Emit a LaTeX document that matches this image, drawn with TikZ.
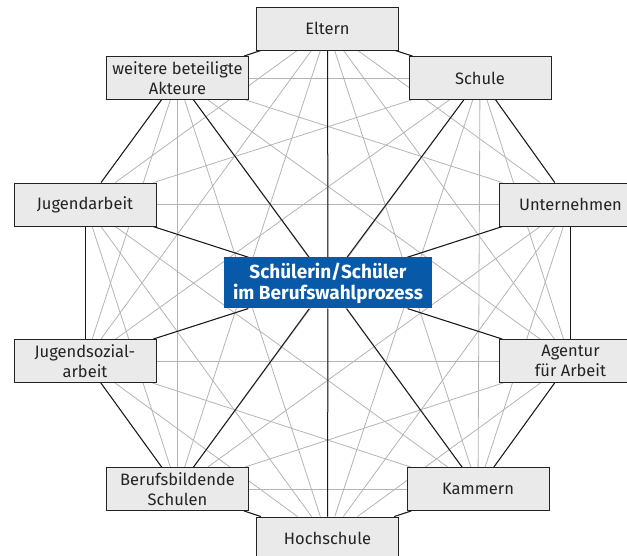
\documentclass[tikz,border=0pt]{standalone}
\usepackage{fontspec}
\setmainfont{Fira Sans}
\usetikzlibrary{backgrounds}
\definecolor{boxgray}{RGB}{234,234,234}
\definecolor{pupilblue}{RGB}{8,90,168}
\definecolor{meshgray}{RGB}{180,180,180}
\definecolor{textdark}{RGB}{35,35,35}

\tikzset{
  actor/.style={draw=textdark, fill=boxgray, line width=0.9pt,
    minimum width=142pt, minimum height=43pt, inner sep=0pt,
    align=center, text=textdark, font=\fontsize{16.5}{20}\selectfont},
  pupil/.style={fill=pupilblue, minimum width=208pt, minimum height=51pt,
    inner sep=0pt, align=center, text=white,
    font=\bfseries\fontsize{19}{21}\selectfont},
  mesh/.style={meshgray, line width=0.8pt},
  link/.style={black!90, line width=1pt}
}

\begin{document}
\begin{tikzpicture}[x=1pt,y=-1pt]
  \useasboundingbox (0,0) rectangle (627,556);

  % Akteure im Kreis
  \node[actor] (eltern)   at (327.5,28.5) {Eltern};
  \node[actor] (schule)   at (480,78)     {Schule};
  \node[actor] (untern)   at (570.5,204.5){Unternehmen};
  \node[actor] (agentur)  at (570.5,361)  {Agentur\\für Arbeit};
  \node[actor] (kammern)  at (478,489)    {Kammern};
  \node[actor] (hoch)     at (327.5,538.5){Hochschule};
  \node[actor] (berufs)   at (177.5,489)  {Berufsbildende\\Schulen};
  \node[actor] (jusozial) at (85,361)     {Jugendsozial-\\arbeit};
  \node[actor] (jugend)   at (85,204.5)   {Jugendarbeit};
  \node[actor] (weitere)  at (177.5,78)   {weitere beteiligte\\Akteure};

  % Mitte
  \node[pupil] (sus) at (328,283) {Schülerin/Schüler\\im Berufswahlprozess};

  \begin{pgfonlayer}{background}
    % graues Netz: jeder mit jedem
    \foreach \a [count=\i] in {eltern,schule,untern,agentur,kammern,hoch,berufs,jusozial,jugend,weitere}
      \foreach \b [count=\j] in {eltern,schule,untern,agentur,kammern,hoch,berufs,jusozial,jugend,weitere}
        {\ifnum\j>\i \draw[mesh] (\a) -- (\b); \fi}

    % Ring
    \foreach \a/\b in {eltern/schule,schule/untern,untern/agentur,agentur/kammern,kammern/hoch,
                       hoch/berufs,berufs/jusozial,jusozial/jugend,jugend/weitere,weitere/eltern}
      \draw[link] (\a) -- (\b);

    % Speichen zur Mitte
    \foreach \a in {eltern,schule,untern,agentur,kammern,hoch,berufs,jusozial,jugend,weitere}
      \draw[link] (\a) -- (sus);
  \end{pgfonlayer}
\end{tikzpicture}
\end{document}
